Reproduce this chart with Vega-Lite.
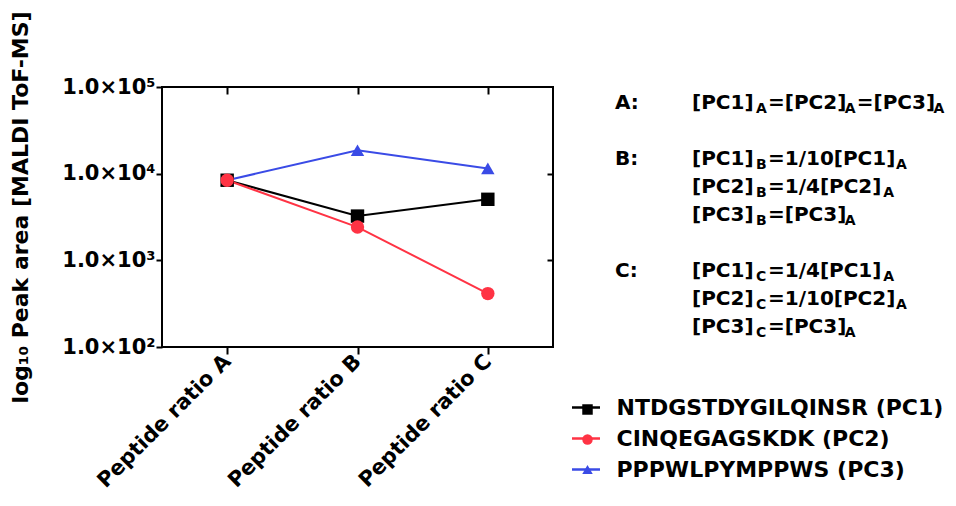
{
  "$schema": "https://vega.github.io/schema/vega-lite/v6.json",
  "width": 391,
  "height": 260,
  "autosize": {"type": "none"},
  "padding": {"left": 162, "top": 87, "right": 403, "bottom": 159},
  "config": {
    "font": "DejaVu Sans",
    "view": {"stroke": "black", "strokeWidth": 2},
    "axis": {
      "domain": false,
      "grid": false,
      "tickColor": "black",
      "tickWidth": 2,
      "labelColor": "black",
      "labelFont": "DejaVu Sans",
      "labelFontWeight": "bold",
      "titleColor": "black",
      "titleFont": "DejaVu Sans",
      "titleFontWeight": "bold"
    },
    "legend": {
      "labelFont": "DejaVu Sans",
      "labelFontWeight": "bold",
      "labelColor": "black",
      "labelFontSize": 22,
      "labelLimit": 400
    }
  },
  "datasets": {
    "peaks": [
      {"peptide": "PPPWLPYMPPWS (PC3)", "ratio": "Peptide ratio A", "area": 8400},
      {"peptide": "PPPWLPYMPPWS (PC3)", "ratio": "Peptide ratio B", "area": 18600},
      {"peptide": "PPPWLPYMPPWS (PC3)", "ratio": "Peptide ratio C", "area": 11500},
      {"peptide": "NTDGSTDYGILQINSR (PC1)", "ratio": "Peptide ratio A", "area": 8400},
      {"peptide": "NTDGSTDYGILQINSR (PC1)", "ratio": "Peptide ratio B", "area": 3240},
      {"peptide": "NTDGSTDYGILQINSR (PC1)", "ratio": "Peptide ratio C", "area": 5060},
      {"peptide": "CINQEGAGSKDK (PC2)", "ratio": "Peptide ratio A", "area": 8400},
      {"peptide": "CINQEGAGSKDK (PC2)", "ratio": "Peptide ratio B", "area": 2420},
      {"peptide": "CINQEGAGSKDK (PC2)", "ratio": "Peptide ratio C", "area": 413}
    ],
    "heads": [
      {"line": 0, "head": "A:"},
      {"line": 2, "head": "B:"},
      {"line": 6, "head": "C:"}
    ],
    "notes": [
      {"line": 0, "seg": 0, "text": "[PC1]", "sub": false},
      {"line": 0, "seg": 1, "text": "A", "sub": true},
      {"line": 0, "seg": 2, "text": "=[PC2]", "sub": false},
      {"line": 0, "seg": 3, "text": "A", "sub": true},
      {"line": 0, "seg": 4, "text": "=[PC3]", "sub": false},
      {"line": 0, "seg": 5, "text": "A", "sub": true},
      {"line": 2, "seg": 0, "text": "[PC1]", "sub": false},
      {"line": 2, "seg": 1, "text": "B", "sub": true},
      {"line": 2, "seg": 2, "text": "=1/10[PC1]", "sub": false},
      {"line": 2, "seg": 3, "text": "A", "sub": true},
      {"line": 3, "seg": 0, "text": "[PC2]", "sub": false},
      {"line": 3, "seg": 1, "text": "B", "sub": true},
      {"line": 3, "seg": 2, "text": "=1/4[PC2]", "sub": false},
      {"line": 3, "seg": 3, "text": "A", "sub": true},
      {"line": 4, "seg": 0, "text": "[PC3]", "sub": false},
      {"line": 4, "seg": 1, "text": "B", "sub": true},
      {"line": 4, "seg": 2, "text": "=[PC3]", "sub": false},
      {"line": 4, "seg": 3, "text": "A", "sub": true},
      {"line": 6, "seg": 0, "text": "[PC1]", "sub": false},
      {"line": 6, "seg": 1, "text": "C", "sub": true},
      {"line": 6, "seg": 2, "text": "=1/4[PC1]", "sub": false},
      {"line": 6, "seg": 3, "text": "A", "sub": true},
      {"line": 7, "seg": 0, "text": "[PC2]", "sub": false},
      {"line": 7, "seg": 1, "text": "C", "sub": true},
      {"line": 7, "seg": 2, "text": "=1/10[PC2]", "sub": false},
      {"line": 7, "seg": 3, "text": "A", "sub": true},
      {"line": 8, "seg": 0, "text": "[PC3]", "sub": false},
      {"line": 8, "seg": 1, "text": "C", "sub": true},
      {"line": 8, "seg": 2, "text": "=[PC3]", "sub": false},
      {"line": 8, "seg": 3, "text": "A", "sub": true}
    ]
  },
  "layer": [
    {
      "data": {"name": "peaks"},
      "mark": {"type": "line", "strokeWidth": 2},
      "encoding": {
        "x": {
          "field": "ratio",
          "type": "ordinal",
          "sort": null,
          "scale": {"type": "point", "padding": 0.5},
          "axis": {
            "orient": "bottom",
            "title": null,
            "labelAngle": -45,
            "labelAlign": "right",
            "labelBaseline": "middle",
            "labelFontSize": 21,
            "labelPadding": 4,
            "tickSize": 7
          }
        },
        "y": {
          "field": "area",
          "type": "quantitative",
          "scale": {"type": "log", "domain": [100, 100000], "nice": false},
          "axis": {
            "orient": "left",
            "values": [100, 1000, 10000, 100000],
            "labelExpr": "datum.value == 100 ? '1.0×10²' : datum.value == 1000 ? '1.0×10³' : datum.value == 10000 ? '1.0×10⁴' : '1.0×10⁵'",
            "labelFontSize": 21,
            "labelPadding": 1,
            "tickSize": 6,
            "title": "log₁₀ Peak area [MALDI ToF-MS]",
            "titleFontSize": 22,
            "titleAngle": -90,
            "titleX": -142,
            "titleY": 120,
            "titleAlign": "center",
            "titleBaseline": "middle"
          }
        },
        "color": {
          "field": "peptide",
          "type": "nominal",
          "scale": {
            "domain": ["NTDGSTDYGILQINSR (PC1)", "CINQEGAGSKDK (PC2)", "PPPWLPYMPPWS (PC3)"],
            "range": ["#000000", "#ff3344", "#3a4be6"]
          },
          "legend": {
            "orient": "none",
            "legendX": 408.5,
            "legendY": 305,
            "title": null,
            "symbolType": "stroke",
            "symbolSize": 784,
            "symbolStrokeWidth": 2.5,
            "labelOffset": 15,
            "rowPadding": 4
          }
        }
      }
    },
    {
      "data": {"name": "peaks"},
      "mark": {"type": "point", "filled": true, "size": 180, "opacity": 1},
      "encoding": {
        "x": {
          "field": "ratio",
          "type": "ordinal",
          "sort": null,
          "scale": {"type": "point", "padding": 0.5},
          "axis": {"orient": "top", "title": null, "labels": false, "tickSize": 7, "offset": -7}
        },
        "y": {
          "field": "area",
          "type": "quantitative",
          "scale": {"type": "log", "domain": [100, 100000], "nice": false},
          "axis": {"orient": "right", "title": null, "labels": false, "values": [1000, 10000], "tickSize": 6, "offset": -6}
        },
        "color": {
          "field": "peptide",
          "type": "nominal",
          "scale": {
            "domain": ["NTDGSTDYGILQINSR (PC1)", "CINQEGAGSKDK (PC2)", "PPPWLPYMPPWS (PC3)"],
            "range": ["#000000", "#ff3344", "#3a4be6"]
          },
          "legend": {
            "orient": "none",
            "legendX": 408.5,
            "legendY": 311.5,
            "title": null,
            "symbolSize": 110,
            "symbolOffset": 6,
            "symbolStrokeWidth": 0,
            "labelExpr": "''",
            "rowPadding": 8
          }
        },
        "shape": {
          "field": "peptide",
          "type": "nominal",
          "scale": {
            "domain": ["NTDGSTDYGILQINSR (PC1)", "CINQEGAGSKDK (PC2)", "PPPWLPYMPPWS (PC3)"],
            "range": ["square", "circle", "triangle-up"]
          },
          "legend": {
            "orient": "none",
            "legendX": 408.5,
            "legendY": 311.5,
            "title": null,
            "symbolSize": 110,
            "symbolOffset": 6,
            "symbolStrokeWidth": 0,
            "labelExpr": "''",
            "rowPadding": 8
          }
        }
      }
    },
    {
      "data": {"name": "heads"},
      "mark": {"type": "text", "align": "left", "baseline": "middle", "fontSize": 20, "fontWeight": "bold", "color": "black"},
      "encoding": {
        "x": {"datum": 0, "type": "quantitative", "scale": {"domain": [0, 16], "range": [453, 773]}, "axis": null},
        "y": {"field": "line", "type": "quantitative", "scale": {"domain": [0, 8], "range": [16, 240]}, "axis": null},
        "text": {"field": "head"}
      }
    },
    {
      "data": {"name": "notes"},
      "transform": [
        {"calculate": "datum.sub ? 0.6 : 0.64 * length(datum.text)", "as": "w"},
        {"window": [{"op": "sum", "field": "w", "as": "upto"}], "groupby": ["line"], "sort": [{"field": "seg", "order": "ascending"}]},
        {"calculate": "3.85 + datum.upto - datum.w", "as": "pos"},
        {"filter": "!datum.sub"}
      ],
      "mark": {"type": "text", "align": "left", "baseline": "middle", "fontSize": 20, "fontWeight": "bold", "color": "black"},
      "encoding": {
        "x": {"field": "pos", "type": "quantitative", "scale": {"domain": [0, 16], "range": [453, 773]}, "axis": null},
        "y": {"field": "line", "type": "quantitative", "scale": {"domain": [0, 8], "range": [16, 240]}, "axis": null},
        "text": {"field": "text"}
      }
    },
    {
      "data": {"name": "notes"},
      "transform": [
        {"calculate": "datum.sub ? 0.6 : 0.64 * length(datum.text)", "as": "w"},
        {"window": [{"op": "sum", "field": "w", "as": "upto"}], "groupby": ["line"], "sort": [{"field": "seg", "order": "ascending"}]},
        {"calculate": "3.85 + datum.upto - datum.w", "as": "pos"},
        {"filter": "datum.sub"}
      ],
      "mark": {"type": "text", "align": "left", "baseline": "middle", "fontSize": 14, "fontWeight": "bold", "color": "black", "dy": 6},
      "encoding": {
        "x": {"field": "pos", "type": "quantitative", "scale": {"domain": [0, 16], "range": [453, 773]}, "axis": null},
        "y": {"field": "line", "type": "quantitative", "scale": {"domain": [0, 8], "range": [16, 240]}, "axis": null},
        "text": {"field": "text"}
      }
    }
  ],
  "resolve": {
    "scale": {"x": "independent", "y": "independent", "color": "independent", "shape": "independent"},
    "axis": {"x": "independent", "y": "independent"},
    "legend": {"color": "independent", "shape": "independent"}
  }
}
